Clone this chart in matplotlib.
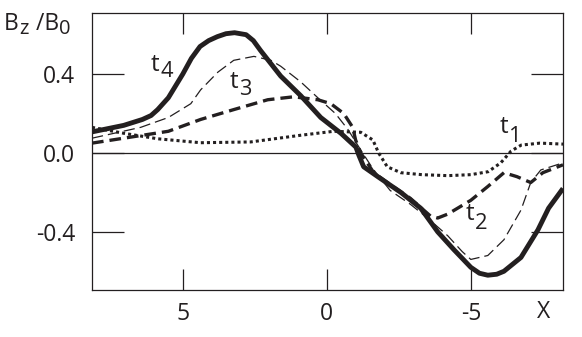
import matplotlib
matplotlib.use("Agg")
import matplotlib.pyplot as plt

plt.rcParams['font.family'] = ['Open Sans', 'DejaVu Sans']

INK = '#231f20'

# ---- data ----
t1_x = [8.15, 7.05, 5.87, 4.38, 2.64, 0.9, -0.24, -1.18, -1.6, -1.8, -2.1, -2.57,
        -3.3, -4.2, -5.0, -5.6, -6.04, -6.4, -6.75, -7.4, -8.2]
t1_y = [0.13, 0.10, 0.072, 0.052, 0.056, 0.09, 0.11, 0.105, 0.066, 0.0, -0.07, -0.10,
        -0.11, -0.115, -0.11, -0.095, -0.05, 0.01, 0.04, 0.05, 0.045]

t2_x = [8.15, 7.05, 5.5, 4.38, 3.23, 2.05, 1.15, 0.31, -0.14, -0.59, -0.9, -1.0,
        -1.18, -1.63, -2.2, -2.9, -3.6, -3.85, -4.2, -5.0, -5.59, -6.15, -6.6,
        -7.08, -7.5, -8.2]
t2_y = [0.05, 0.075, 0.11, 0.17, 0.22, 0.27, 0.285, 0.27, 0.25, 0.20, 0.13, 0.066,
        0.0, -0.10, -0.16, -0.23, -0.32, -0.33, -0.31, -0.24, -0.17, -0.10, -0.12,
        -0.15, -0.10, -0.06]

t3_x = [8.15, 6.46, 5.5, 4.72, 4.38, 3.78, 3.23, 2.53, 1.94, 1.6, 0.9, 0.31, -0.3,
        -0.73, -1.18, -1.6, -2.2, -2.9, -3.5, -4.2, -4.7, -5.0, -5.59, -6.15,
        -6.74, -7.08, -7.43, -8.2]
t3_y = [0.075, 0.13, 0.18, 0.25, 0.32, 0.41, 0.47, 0.49, 0.47, 0.44, 0.36, 0.28, 0.2,
        0.12, 0.015, -0.08, -0.19, -0.26, -0.33, -0.42, -0.50, -0.54, -0.52, -0.44,
        -0.29, -0.15, -0.086, -0.05]

t4_x = [8.15, 7.05, 6.4, 6.1, 5.87, 5.5, 5.0, 4.7, 4.4, 4.1, 3.8, 3.5, 3.2, 2.8, 2.55,
        2.3, 1.6, 0.9, 0.21, -0.49, -1.01, -1.11, -1.28, -1.77, -2.57, -3.26, -3.85,
        -4.41, -5.0, -5.3, -5.59, -5.9, -6.15, -6.74, -7.33, -7.7, -8.2]
t4_y = [0.107, 0.14, 0.17, 0.19, 0.22, 0.28, 0.40, 0.48, 0.54, 0.57, 0.59, 0.605, 0.61,
        0.60, 0.57, 0.52, 0.39, 0.29, 0.18, 0.10, 0.03, -0.01, -0.07, -0.12, -0.20,
        -0.28, -0.40, -0.49, -0.58, -0.61, -0.62, -0.615, -0.60, -0.53, -0.39, -0.28,
        -0.18]

x_ticks = [5, 0, -5]
x_tick_labels = ['5', '0', '-5']
y_ticks = [-0.4, 0.0, 0.4]
y_tick_labels = ['-0.4', '0.0', '0.4']

W, H = 582, 337
fig = plt.figure(figsize=(W / 100, H / 100), dpi=100)
ax = fig.add_axes([92 / W, 1 - 290 / H, (563 - 92) / W, (290 - 13) / H])

ax.plot(t1_x, t1_y, color=INK, lw=2.2, dashes=(1, 1))
ax.plot(t2_x, t2_y, color=INK, lw=2.4, dashes=(3.5, 1.8))
ax.plot(t3_x, t3_y, color=INK, lw=0.9, dashes=(9, 4))
ax.plot(t4_x, t4_y, color=INK, lw=3.5, solid_joinstyle='round', solid_capstyle='butt')
ax.axhline(0, color=INK, lw=0.9)

ax.set_xlim(8.15, -8.2)
ax.set_ylim(-0.695, 0.71)
ax.set_xticks(x_ticks)
ax.set_xticklabels(x_tick_labels)
ax.set_yticks(y_ticks)
ax.set_yticklabels(y_tick_labels)

for s in ax.spines.values():
    s.set_color(INK)
    s.set_linewidth(0.9)

ax.tick_params(axis='x', direction='in', length=15, width=0.9, color=INK,
               top=True, bottom=True, pad=9, labelsize=16.5, labelcolor=INK)
ax.tick_params(axis='y', direction='in', length=23, width=0.9, color=INK,
               left=True, right=True, pad=12, labelsize=16.5, labelcolor=INK)

renderer = fig.canvas.get_renderer()


def sub_text(px, py, parts, size=16.5, drop=4, sub_scale=0.88):
    """parts: list of (text, is_sub). px,py: left / baseline in pixels (top origin)."""
    x = px
    for txt, is_sub in parts:
        fs = size * sub_scale if is_sub else size
        yb = py + (drop if is_sub else 0)
        t = fig.text(x / W, 1 - yb / H, txt, fontsize=fs, color=INK,
                     ha='left', va='baseline')
        bb = t.get_window_extent(renderer=renderer)
        x += bb.width + (0.5 if not is_sub else 1)


sub_text(4, 30, [('B', False), ('z', True), (' /B', False), ('0', True)])
sub_text(151, 71, [('t', False), ('4', True)], size=17.5, drop=6, sub_scale=0.9)
sub_text(230, 88, [('t', False), ('3', True)], size=17.5, drop=7, sub_scale=0.9)
sub_text(500, 133, [('t', False), ('1', True)], size=17.5, drop=9, sub_scale=0.9)
sub_text(466, 220, [('t', False), ('2', True)], size=17.5, drop=9, sub_scale=0.9)

fig.text(544 / W, 1 - 318 / H, 'X', fontsize=16.5, color=INK, ha='center', va='baseline')

fig.savefig('out.png', dpi=100)
